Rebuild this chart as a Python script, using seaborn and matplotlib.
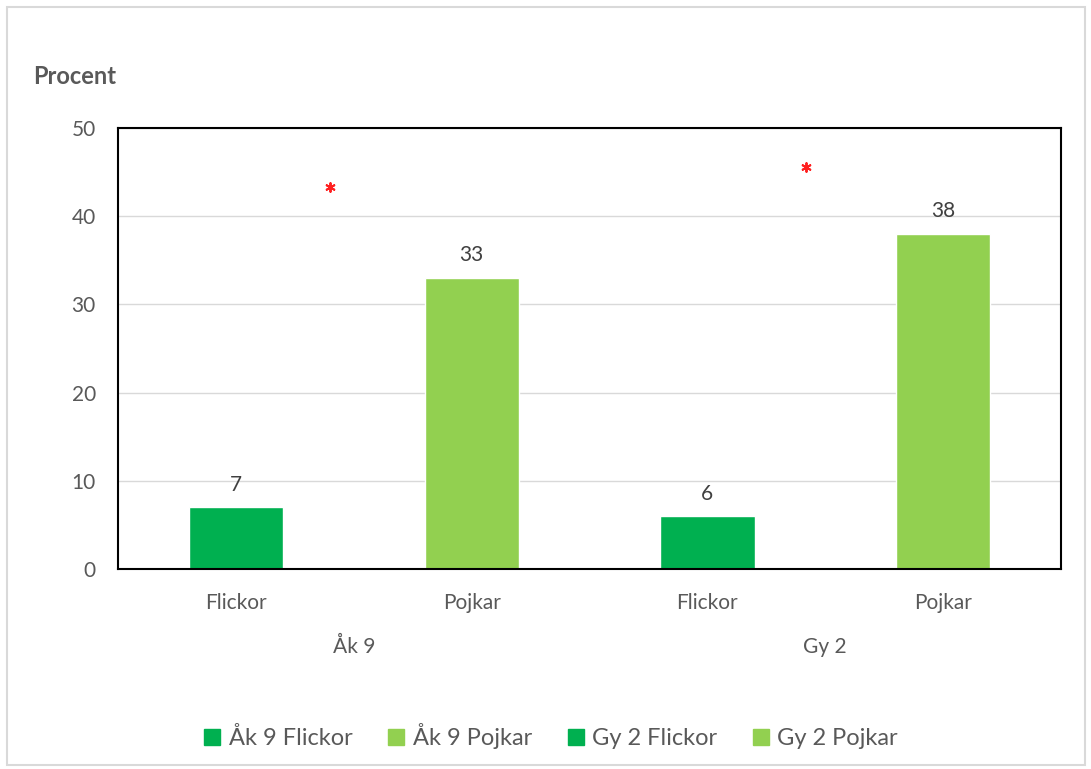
import matplotlib.pyplot as plt
import matplotlib.patches as mpatches
from matplotlib.lines import Line2D
import numpy as np
import pandas as pd
import seaborn as sns

series = ["Åk 9 Flickor", "Åk 9 Pojkar", "Gy 2 Flickor", "Gy 2 Pojkar"]
bar_labels = ["Flickor", "Pojkar", "Flickor", "Pojkar"]
groups = ["Åk 9", "Gy 2"]
values = [7, 33, 6, 38]
star_x = [0.4, 2.42]
star_y = [43.3, 45.6]

colors = ["#00B050", "#92D050", "#00B050", "#92D050"]
gray = "#595959"

sns.set_style("white")
plt.rcParams["font.family"] = ["Lato", "DejaVu Sans"]

df = pd.DataFrame({"pos": range(4), "serie": series, "value": values})

fig = plt.figure(figsize=(10.91, 7.69), dpi=100)
ax = fig.add_axes([0.1082, 0.2601, 0.8643, 0.5735])

sns.barplot(data=df, x="pos", y="value", hue="serie", palette=colors,
            dodge=False, width=0.4, legend=False, ax=ax, saturation=1)
for c in ax.containers:
    ax.bar_label(c, fmt="%g", padding=9, fontsize=15, color="#404040")

ax.scatter(star_x, star_y, marker=(6, 2, 0), s=40, color="#FF2020",
           linewidths=1.4, zorder=5)

ax.set_xlim(-0.5, 3.5)
ax.set_ylim(0, 50)
ax.set_yticks(range(0, 51, 10))
ax.yaxis.grid(True, color="#D9D9D9", linewidth=1)
ax.set_axisbelow(True)
ax.set_xticks(range(4))
ax.set_xticklabels(bar_labels)
ax.tick_params(axis="both", length=0, labelsize=15, colors=gray)
ax.tick_params(axis="x", pad=17)
ax.tick_params(axis="y", pad=16)
ax.set_xlabel("")
ax.set_ylabel("")
for s in ax.spines.values():
    s.set_color("black")
    s.set_linewidth(1.5)

for i, g in enumerate(groups):
    ax.text(0.5 + 2 * i, -8.8, g, ha="center", va="center",
            fontsize=15, color=gray)

fig.text(33 / 1091, 1 - 76 / 769, "Procent", ha="left", va="center",
         fontsize=17, fontweight="bold", color=gray)

handles = [Line2D([], [], marker="s", linestyle="", markersize=11,
                  color=c) for c in colors]
fig.legend(handles, series, loc="center", bbox_to_anchor=(0.505, 1 - 736 / 769),
           ncol=4, frameon=False, fontsize=17, labelcolor=gray,
           handlelength=0.7, handletextpad=0.35, columnspacing=1.5)

fig.patches.append(mpatches.Rectangle((7 / 1091, 4 / 769), 1078 / 1091, 758 / 769,
                                      transform=fig.transFigure, fill=False,
                                      edgecolor="#D9D9D9", linewidth=1.5))

fig.savefig("out.png", dpi=100)
